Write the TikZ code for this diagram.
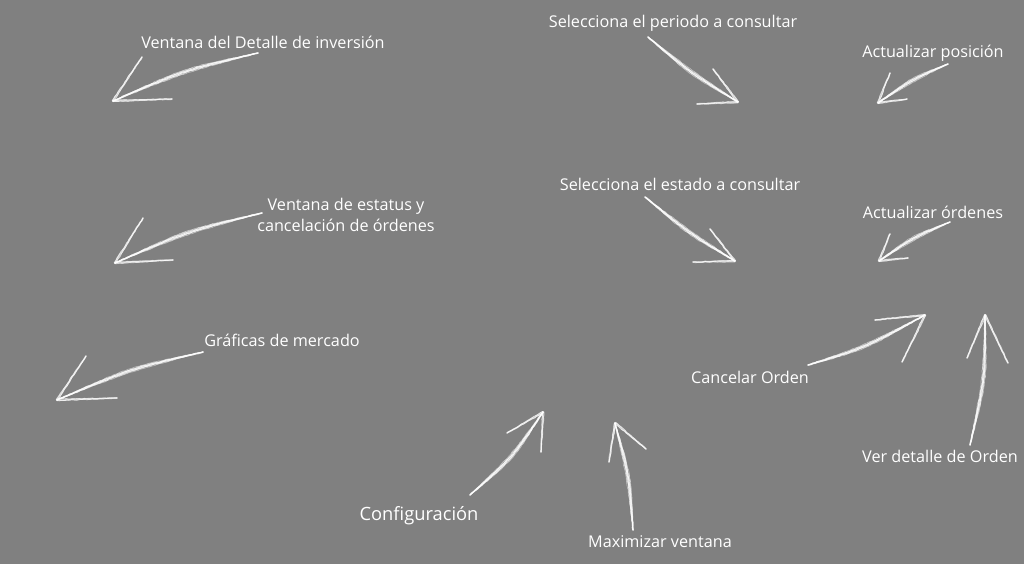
\documentclass[tikz,border=0pt]{standalone}
\usepackage{fontspec}
\setmainfont{Open Sans}
\usetikzlibrary{calc,decorations.pathmorphing}
\definecolor{bg}{RGB}{128,128,128}
\pgfmathsetseed{7}
\newcommand\chalkarrow[5]{%
  \foreach \d/\w/\o in {0/1.6/0.7,1.4/1.0/0.6,-1.4/1.0/0.6,2.6/0.6/0.5,-2.4/0.6/0.5,0.7/0.5/0.8,-0.7/0.5/0.8}{%
    \draw[chalk, rough, line width=\w pt, draw opacity=\o] (#1) .. controls ($(#2)!\d pt!90:(#3)$) .. (#3);
  }%
  \foreach \d/\w in {0/1.6,0.9/0.9,-0.7/0.7}{%
    \draw[chalk, rough, line width=\w pt] ($(#3)!\d pt!90:(#4)$) -- (#4);
    \draw[chalk, rough, line width=\w pt] ($(#3)!\d pt!90:(#5)$) -- (#5);
  }%
}
\begin{document}
\begin{tikzpicture}[x=1pt,y=-1pt,
  lbl/.style={text=white, font=\fontsize{16.2}{21}\selectfont, inner sep=0pt, align=center},
  big/.style={lbl, font=\fontsize{18.3}{21}\selectfont},
  chalk/.style={draw=white, draw opacity=0.65, line cap=round},
  rough/.style={decorate, decoration={random steps, segment length=2.5pt, amplitude=0.35pt}},
]
\fill[bg] (0,0) rectangle (1024,564);
\useasboundingbox (0,0) rectangle (1024,564);

% labels
\node[lbl] (l1) at (263,42) {Ventana del Detalle de inversión};
\node[lbl] (l2) at (346,215) {Ventana de estatus y\\cancelación de órdenes};
\node[lbl] (l3) at (282,340) {Gráficas de mercado};
\node[lbl] (l4) at (673,23) {Selecciona el periodo a consultar};
\node[lbl] (l5) at (933,53) {Actualizar posición};
\node[lbl] (l6) at (680,184) {Selecciona el estado a consultar};
\node[lbl] (l7) at (933,212) {Actualizar órdenes};
\node[lbl] (l8) at (750,377) {Cancelar Orden};
\node[lbl] (l9) at (940,456) {Ver detalle de Orden};
\node[big] (l10) at (419,516) {Configuración};
\node[lbl] (l11) at (660,542) {Maximizar ventana};

% arrow 1
\coordinate (t1) at (258,53); \coordinate (c1) at (185,70); \coordinate (p1) at (113,101);
\coordinate (a1) at (142,57); \coordinate (b1) at (172,99);
\chalkarrow{t1}{c1}{p1}{a1}{b1}
% arrow 2
\coordinate (t2) at (262,213); \coordinate (c2) at (188,231); \coordinate (p2) at (115,263);
\coordinate (a2) at (143,218); \coordinate (b2) at (173,260);
\chalkarrow{t2}{c2}{p2}{a2}{b2}
% arrow 3
\coordinate (t3) at (203,352); \coordinate (c3) at (130,369); \coordinate (p3) at (57,400);
\coordinate (a3) at (86,356); \coordinate (b3) at (117,398);
\chalkarrow{t3}{c3}{p3}{a3}{b3}
% arrow 4
\coordinate (t4) at (648,37); \coordinate (c4) at (691,73); \coordinate (p4) at (738,102);
\coordinate (a4) at (713,69); \coordinate (b4) at (697,104);
\chalkarrow{t4}{c4}{p4}{a4}{b4}
% arrow 5
\coordinate (t5) at (948,64); \coordinate (c5) at (913,79); \coordinate (p5) at (878,103);
\coordinate (a5) at (890,73); \coordinate (b5) at (907,99);
\chalkarrow{t5}{c5}{p5}{a5}{b5}
% arrow 6
\coordinate (t6) at (645,197); \coordinate (c6) at (689,233); \coordinate (p6) at (735,261);
\coordinate (a6) at (710,229); \coordinate (b6) at (693,262);
\chalkarrow{t6}{c6}{p6}{a6}{b6}
% arrow 7
\coordinate (t7) at (950,222); \coordinate (c7) at (914,237); \coordinate (p7) at (879,261);
\coordinate (a7) at (890,234); \coordinate (b7) at (908,258);
\chalkarrow{t7}{c7}{p7}{a7}{b7}
% arrow 8
\coordinate (t8) at (808,365); \coordinate (c8) at (864,348); \coordinate (p8) at (925,315);
\coordinate (a8) at (875,320); \coordinate (b8) at (902,362);
\chalkarrow{t8}{c8}{p8}{a8}{b8}
% arrow 9
\coordinate (t9) at (970,445); \coordinate (c9) at (985,380); \coordinate (p9) at (985,315);
\coordinate (a9) at (967,358); \coordinate (b9) at (1008,363);
\chalkarrow{t9}{c9}{p9}{a9}{b9}
% arrow 10
\coordinate (t10) at (470,495); \coordinate (c10) at (512,458); \coordinate (p10) at (543,412);
\coordinate (a10) at (507,433); \coordinate (b10) at (541,452);
\chalkarrow{t10}{c10}{p10}{a10}{b10}
% arrow 11
\coordinate (t11) at (633,530); \coordinate (c11) at (629,476); \coordinate (p11) at (615,423);
\coordinate (a11) at (609,462); \coordinate (b11) at (646,449);
\chalkarrow{t11}{c11}{p11}{a11}{b11}
\end{tikzpicture}
\end{document}
